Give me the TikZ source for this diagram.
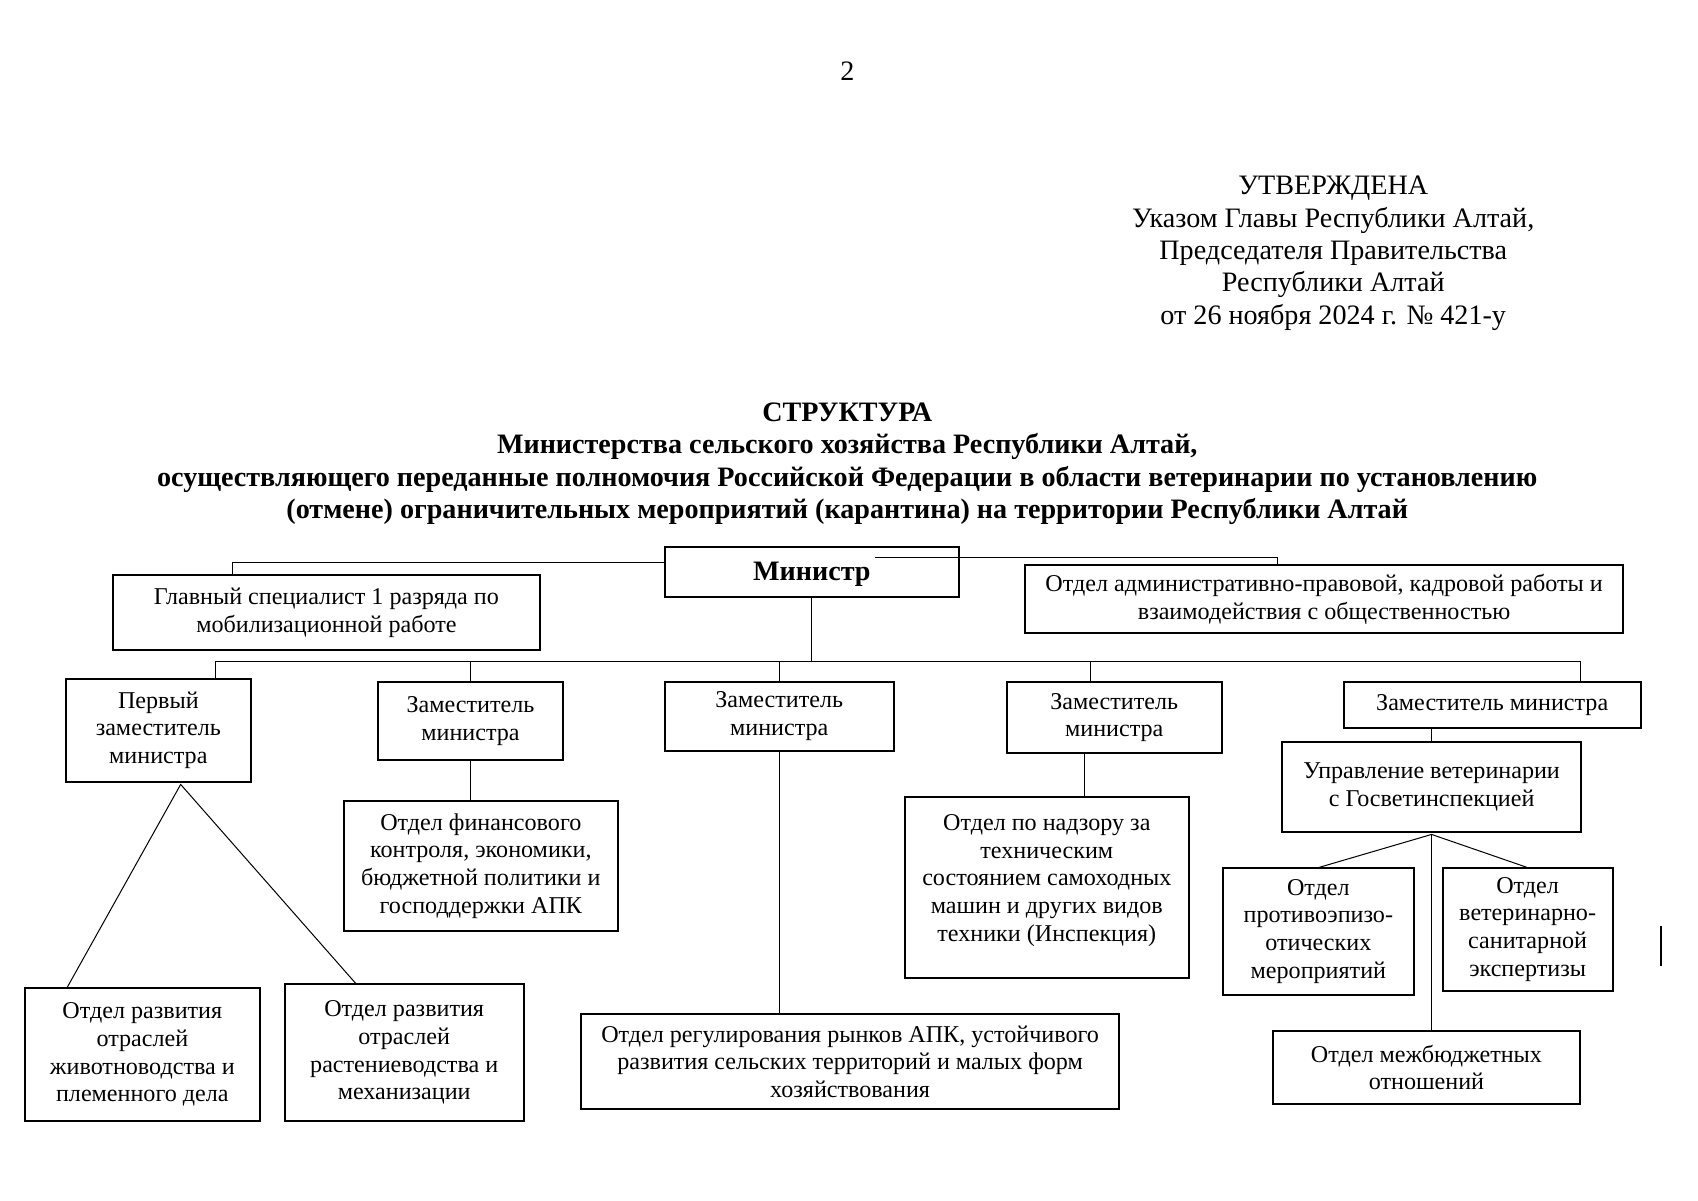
\documentclass[tikz,border=0pt]{standalone}
\usepackage{fontspec}
\setmainfont{Liberation Serif}
\usetikzlibrary{positioning}

\begin{document}
\begin{tikzpicture}[
	unit/.style={rectangle, draw=black!100, line width=1pt, inner sep=2pt, outer sep=0pt, align=center, font=\fontsize{12}{13.8}\selectfont},
	chief/.style={unit, font=\fontsize{14}{16}\selectfont\bfseries},
	head/.style={rectangle, align=center, font=\fontsize{14}{16.1}\selectfont},
	heading/.style={rectangle, align=center, font=\fontsize{14}{16.1}\selectfont\bfseries}
	]
	\useasboundingbox (0,0) rectangle (29.7,-21);
	\node[head] (pagenum) at (14.82,-1.25) {2};
	\node[head] (approved) at (23.32,-4.43) {УТВЕРЖДЕНА\\Указом Главы Республики Алтай,\\Председателя Правительства\\Республики Алтай\\от 26 ноября 2024 г. № 421-у};
	\node[heading] (title) at (14.82,-8.11) {СТРУКТУРА\\Министерства сельского хозяйства Республики Алтай,\\осуществляющего переданные полномочия Российской Федерации в области ветеринарии по установлению\\(отмене) ограничительных мероприятий (карантина) на территории Республики Алтай};
	% top level
	\node[chief, minimum width=5.15cm, minimum height=0.87cm, text depth=0pt] (minister) at (14.20,-10.00) {Министр};
	\node[unit, minimum width=7.48cm, minimum height=1.31cm] (mobil) at (5.71,-10.72) {Главный специалист 1 разряда по\\мобилизационной работе};
	\node[unit, minimum width=10.47cm, minimum height=1.19cm] (admin) at (23.16,-10.48) {Отдел административно-правовой, кадровой работы и\\взаимодействия с общественностью};
	% deputies
	\node[unit, minimum width=3.24cm, minimum height=1.80cm] (firstdep) at (2.77,-12.77) {Первый\\заместитель\\министра};
	\node[unit, minimum width=3.22cm, minimum height=1.36cm] (deptwo) at (8.23,-12.61) {Заместитель\\министра};
	\node[unit, minimum width=4.01cm, minimum height=1.21cm] (depthree) at (13.63,-12.53) {Заместитель\\министра};
	\node[unit, minimum width=3.77cm, minimum height=1.25cm] (depfour) at (19.49,-12.55) {Заместитель\\министра};
	\node[unit, minimum width=5.19cm, minimum height=0.81cm] (depfive) at (26.10,-12.33) {Заместитель министра};
	% departments
	\node[unit, minimum width=4.11cm, minimum height=2.33cm] (livestock) [below=3.61cm of firstdep, xshift=-0.28cm] {Отдел развития\\отраслей\\животноводства и\\племенного дела};
	\node[unit, minimum width=4.18cm, minimum height=2.40cm] (crops) [below=3.54cm of firstdep, xshift=4.30cm] {Отдел развития\\отраслей\\растениеводства и\\механизации};
	\node[unit, minimum width=4.79cm, minimum height=2.27cm] (finance) [below=0.72cm of deptwo, xshift=0.18cm] {Отдел финансового\\контроля, экономики,\\бюджетной политики и\\господдержки АПК};
	\node[unit, minimum width=9.41cm, minimum height=1.67cm] (markets) [below=4.60cm of depthree, xshift=1.24cm] {Отдел регулирования рынков АПК, устойчивого\\развития сельских территорий и малых форм\\хозяйствования};
	\node[unit, minimum width=4.96cm, minimum height=3.16cm] (inspect) [below=0.77cm of depfour, xshift=-1.18cm] {Отдел по надзору за\\техническим\\состоянием самоходных\\машин и других видов\\техники (Инспекция)\\[-4pt]\mbox{}};
	\node[unit, minimum width=5.22cm, minimum height=1.57cm] (vetboard) [below=0.25cm of depfive, xshift=-1.06cm] {Управление ветеринарии\\с Госветинспекцией};
	\node[unit, minimum width=3.33cm, minimum height=2.23cm] (epizoo) [below=0.62cm of vetboard, xshift=-1.98cm] {Отдел\\противоэпизо-\\отических\\мероприятий};
	\node[unit, minimum width=2.97cm, minimum height=2.16cm] (sanitary) [below=0.62cm of vetboard, xshift=1.68cm] {Отдел\\ветеринарно-\\санитарной\\экспертизы};
	\node[unit, minimum width=5.38cm, minimum height=1.27cm] (interbudget) [below=3.48cm of vetboard, xshift=-0.09cm] {Отдел межбюджетных\\отношений};
	\coordinate (busleft) at (3.77,-11.57);
	\coordinate (busright) at (27.64,-11.57);
	\coordinate (forkone) at ([xshift=0.39cm, yshift=-0.05cm]firstdep.south);
	\coordinate (forkvet) at ([yshift=-0.04cm]vetboard.south);
	\coordinate (stroke) at (29.06,-16.19);
	\begin{scope}[line width=0.5pt]
	\draw ([yshift=0.16cm]minister.west) -| ([xshift=-1.64cm]mobil.north);
	\draw ([xshift=1.10cm, yshift=-0.19cm]minister.north) -| ([xshift=-0.82cm]admin.north);
	\draw (minister.south) -- (minister.south |- busleft);
	\draw (busleft) -- (busright);
	\draw (busleft) -- (busleft |- firstdep.north);
	\draw (deptwo.north) -- (deptwo.north |- busleft);
	\draw (depthree.north) -- (depthree.north |- busleft);
	\draw ([xshift=-0.41cm]depfour.north) coordinate (tickfour) -- (tickfour |- busleft);
	\draw (busright) -- (busright |- depfive.north);
	\draw ([xshift=-1.32cm]livestock.north) -- (forkone) -- ([xshift=-0.84cm]crops.north);
	\draw (deptwo.south) -- (deptwo.south |- finance.north);
	\draw (depthree.south) -- (depthree.south |- markets.north);
	\draw ([xshift=-0.52cm]depfour.south) coordinate (dropfour) -- (dropfour |- inspect.north);
	\draw (vetboard.north) -- (vetboard.north |- depfive.south);
	\draw (epizoo.north) -- (forkvet) -- (sanitary.north);
	\draw (forkvet) -- (forkvet |- interbudget.north);
	\end{scope}
	\draw[line width=1pt] (stroke) -- ++(0,-0.70);
\end{tikzpicture}
\end{document}
